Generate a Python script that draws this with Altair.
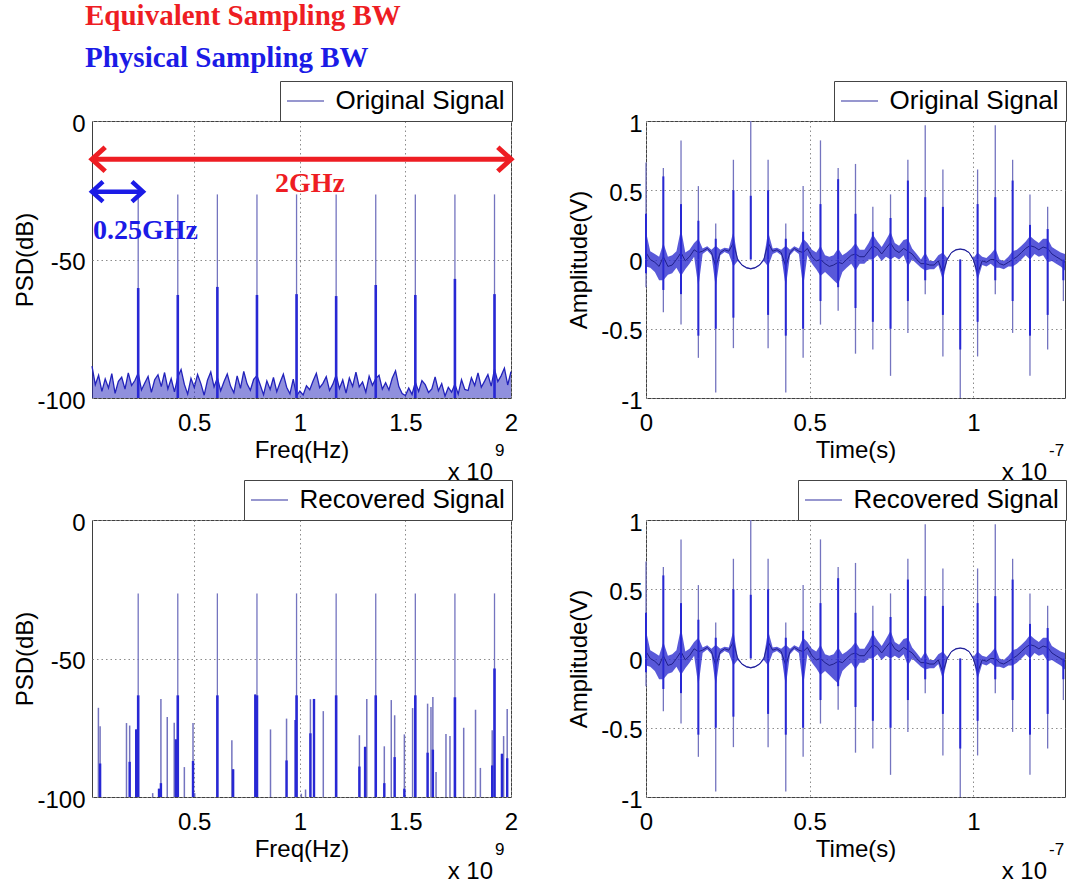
import altair as alt
import pandas as pd

# ---------------- values ----------------
# Frequency axis shown in units of 1e9 Hz, time axis in units of 1e-7 s
FREQ_DOMAIN = [0.015625, 2.0]
FREQ_STEP = 0.015625
DB_DOMAIN = [-100, 0]
TIME_DOMAIN = [0.0, 1.28]
AMP_DOMAIN = [-1, 1]

# comb lines (both spectra)
comb_f = [0.2344, 0.4219, 0.6094, 0.7969, 0.9844, 1.1719, 1.3594, 1.5469, 1.7344, 1.9219]
orig_comb_peak = [-26.5, -26.5, -26.5, -26.5, -26.5, -26.5, -26.5, -26.5, -26.5, -26.5]
orig_comb_core = [-60.3, -62.8, -59.9, -62.8, -62.5, -63.2, -59.2, -62.8, -57.0, -62.5]
rec_comb_peak = [-26.5, -26.5, -26.5, -26.5, -26.5, -26.5, -26.5, -26.5, -26.5, -26.5]
rec_comb_core = [-63.3, -63.3, -63.3, -63.3, -63.3, -63.3, -63.3, -63.3, -64.0, -53.6]

# noise floor of the original spectrum (one value per 15.625 MHz bin)
orig_floor = [
    -88.5, -95.2, -91.8, -97.6, -93.1, -96.4, -91.2, -98.3, -94.0, -92.5,
    -96.8, -90.9, -95.5, -93.7, -91.0, -97.1, -94.6, -92.2, -98.0, -93.4,
    -91.6, -95.9, -90.8, -96.7, -93.0, -97.8, -92.4, -89.7, -95.1, -98.6,
    -92.9, -96.2, -91.5, -94.8, -99.0, -93.6, -90.6, -96.0, -92.7, -97.4,
    -94.1, -91.3, -95.7, -98.1, -92.0, -96.5, -90.4, -94.9, -97.2, -93.3,
    -91.9, -95.3, -98.8, -93.8, -96.9, -92.6, -97.7, -94.4, -91.4, -96.1,
    -98.5, -93.2, -99.2, -97.5, -98.9, -95.6, -97.0, -93.9, -91.1, -96.3,
    -94.7, -92.3, -97.3, -95.0, -91.7, -96.6, -93.5, -98.2, -92.8, -95.8,
    -90.7, -96.0, -94.2, -97.9, -92.1, -95.4, -93.0, -91.8, -96.8, -94.5,
    -97.1, -92.9, -90.2, -95.9, -98.4, -99.1, -96.4, -98.7, -94.3, -97.6,
    -93.7, -95.2, -98.0, -96.7, -92.4, -97.4, -94.8, -99.3, -96.2, -97.9,
    -95.0, -98.6, -93.4, -96.9, -97.3, -92.7, -95.5, -90.9, -96.1, -93.9,
    -91.5, -95.7, -89.6, -94.1, -92.0, -89.2, -95.3, -90.5,
]

# spurious lines of the recovered spectrum
rec_extra_f = [0.046, 0.054, 0.179, 0.194, 0.225, 0.303, 0.333, 0.342, 0.372, 0.405,
               0.413, 0.453, 0.494, 0.502, 0.678, 0.684, 0.789, 0.861, 0.937, 0.980,
               1.007, 1.027, 1.050, 1.067, 1.111, 1.282, 1.309, 1.317, 1.400, 1.433,
               1.449, 1.495, 1.534, 1.605, 1.621, 1.630, 1.645, 1.692, 1.711, 1.776,
               1.832, 1.855, 1.911, 1.957, 1.965, 1.982]
rec_extra_top = [-67.8, -74.5, -73.3, -74.2, -75.6, -98.6, -97.0, -64.6, -71.1, -73.2,
                 -79.2, -89.2, -73.3, -98.6, -79.5, -90.0, -63.0, -75.6, -71.7, -72.2,
                 -98.8, -97.3, -64.7, -64.6, -69.0, -77.7, -81.9, -64.6, -81.7, -65.0,
                 -70.5, -77.4, -67.9, -66.3, -67.5, -63.9, -91.0, -77.3, -78.0, -75.0,
                 -68.5, -89.5, -75.9, -84.4, -78.0, -68.2]
rec_extra_core = [None, -87.9, None, -87.3, -75.6, None, -97.0, -95.0, None, None,
                  -79.2, None, -87.0, None, None, -90.0, -63.0, None, -86.8, -72.2,
                  None, None, -77.0, -64.6, None, -89.0, -81.9, None, -95.0, None,
                  -85.6, -97.0, None, -84.0, None, -82.9, None, None, None, None,
                  None, None, -88.6, -84.4, None, -86.0]

# time-domain pulses (same for original and recovered signal)
spike_t = [0.0, 0.053, 0.107, 0.16, 0.213, 0.267, 0.32, 0.373, 0.427, 0.48, 0.533, 0.587,
           0.64, 0.693, 0.747, 0.8, 0.853, 0.907, 0.96, 1.013, 1.067, 1.12, 1.173, 1.227, 1.275]
up_peak = [0.70, 0.66, 0.86, 0.53, 0.26, 0.72, 1.00, 0.72, 0.26, 0.53, 0.86, 0.66,
           0.69, 0.38, 0.47, 0.72, 0.97, 0.65, None, 0.65, 0.97, 0.72, 0.47, 0.38, None]
up_core = [0.33, 0.60, 0.40, 0.28, 0.15, 0.50, 0.46, 0.50, 0.15, 0.20, 0.40, 0.58,
           0.33, 0.20, 0.30, 0.57, 0.45, 0.38, None, 0.40, 0.45, 0.57, 0.25, 0.22, None]
down_peak = [-0.20, -0.38, -0.47, -0.71, -0.96, -0.64, None, -0.64, -0.96, -0.71, -0.47, -0.37,
             -0.68, -0.65, -0.84, -0.53, -0.25, -0.70, -1.00, -0.70, -0.25, -0.53, -0.84, -0.65, -0.30]
down_core = [-0.10, -0.22, -0.25, -0.55, -0.50, -0.42, None, -0.40, -0.55, -0.50, -0.30, -0.20,
             -0.35, -0.45, -0.50, -0.30, -0.15, -0.40, -0.65, -0.45, -0.15, -0.30, -0.55, -0.40, -0.15]

# slowly varying part of the waveform: centre line and the spread of the ripple
base_t = [0.000, 0.013, 0.027, 0.040, 0.053, 0.067, 0.080, 0.093, 0.107, 0.120, 0.133, 0.147,
          0.160, 0.173, 0.187, 0.200, 0.213, 0.227, 0.240, 0.253, 0.267, 0.280, 0.293, 0.307,
          0.320, 0.333, 0.347, 0.360, 0.373, 0.387, 0.400, 0.413, 0.427, 0.440, 0.453, 0.467,
          0.480, 0.493, 0.507, 0.520, 0.533, 0.547, 0.560, 0.573, 0.587, 0.600, 0.613, 0.627,
          0.640, 0.653, 0.667, 0.680, 0.693, 0.707, 0.720, 0.733, 0.747, 0.760, 0.773, 0.787,
          0.800, 0.813, 0.827, 0.840, 0.853, 0.867, 0.880, 0.893, 0.907, 0.920, 0.933, 0.947,
          0.960, 0.973, 0.987, 1.000, 1.013, 1.027, 1.040, 1.053, 1.067, 1.080, 1.093, 1.107,
          1.120, 1.133, 1.147, 1.160, 1.173, 1.187, 1.200, 1.213, 1.227, 1.240, 1.253, 1.267,
          1.280]
base_mid = [0.05, 0.00, -0.02, -0.05, 0.02, -0.05, -0.04, 0.00, 0.05, -0.01, 0.02, 0.07,
            0.05, 0.06, 0.08, 0.05, -0.05, 0.05, 0.07, 0.06, 0.12, 0.00, -0.04, -0.06,
            -0.067, -0.06, -0.04, 0.00, 0.12, 0.06, 0.07, 0.05, -0.05, 0.05, 0.08, 0.06,
            0.05, 0.08, 0.02, -0.01, 0.00, -0.03, -0.05, -0.04, -0.02, -0.03, 0.00, 0.03,
            0.04, 0.02, 0.02, 0.06, 0.10, 0.08, 0.04, 0.08, 0.12, 0.07, 0.05, 0.08,
            0.06, 0.04, 0.00, -0.03, -0.03, -0.04, -0.04, -0.01, -0.10, 0.00, 0.05, 0.07,
            0.075, 0.07, 0.05, 0.00, -0.10, -0.01, -0.02, 0.00, 0.00, -0.03, -0.04, -0.02,
            0.00, 0.02, 0.05, 0.08, 0.10, 0.09, 0.07, 0.09, 0.08, 0.04, 0.02, 0.00,
            -0.02]
base_lo = [-0.05, -0.06, -0.09, -0.15, -0.15, -0.11, -0.10, -0.06, -0.12, -0.07, -0.03, 0.02,
           -0.20, 0.04, 0.065, 0.03, -0.20, 0.03, 0.055, 0.04, -0.05, -0.01, -0.045, -0.065,
           -0.072, -0.065, -0.045, -0.01, -0.05, 0.04, 0.055, 0.03, -0.20, 0.03, 0.065, 0.04,
           -0.20, 0.03, -0.03, -0.07, -0.12, -0.09, -0.12, -0.15, -0.18, -0.09, -0.06, -0.03,
           -0.08, -0.03, -0.03, 0.00, 0.00, 0.03, -0.01, 0.02, 0.00, 0.02, 0.00, 0.03,
           -0.05, 0.00, -0.03, -0.06, -0.08, -0.07, -0.07, -0.04, -0.15, -0.01, 0.045, 0.065,
           0.07, 0.065, 0.045, -0.01, -0.15, -0.04, -0.05, -0.03, -0.06, -0.06, -0.07, -0.05,
           -0.05, -0.03, 0.00, 0.03, 0.00, 0.04, 0.02, 0.03, -0.02, -0.01, -0.03, -0.05,
           -0.08]
base_hi = [0.20, 0.06, 0.04, 0.02, 0.12, 0.02, 0.03, 0.06, 0.22, 0.05, 0.07, 0.12,
           0.15, 0.08, 0.095, 0.07, 0.10, 0.07, 0.085, 0.08, 0.20, 0.01, -0.035, -0.055,
           -0.062, -0.055, -0.035, 0.01, 0.20, 0.08, 0.085, 0.07, 0.10, 0.07, 0.095, 0.08,
           0.15, 0.12, 0.07, 0.05, 0.10, 0.03, 0.02, 0.03, 0.08, 0.03, 0.05, 0.08,
           0.12, 0.07, 0.07, 0.12, 0.18, 0.13, 0.09, 0.14, 0.20, 0.12, 0.10, 0.14,
           0.15, 0.08, 0.04, 0.00, 0.05, -0.01, -0.01, 0.03, 0.05, 0.01, 0.055, 0.075,
           0.08, 0.075, 0.055, 0.01, 0.05, 0.02, 0.01, 0.04, 0.08, 0.00, -0.01, 0.02,
           0.06, 0.07, 0.10, 0.13, 0.17, 0.14, 0.12, 0.15, 0.15, 0.09, 0.07, 0.05,
           0.04]

# annotation values (data units)
eq_bw_level = -13.8      # red 2 GHz arrow
phys_bw_level = -25.5    # blue 0.25 GHz arrow
phys_bw_end = 0.257

# ---------------- styling ----------------
W, H = 419, 277
SANS = "Liberation Sans"
SERIF = "Liberation Serif"
THIN = "#7474bf"
CORE = "#2828d4"
LINE = "#2222bb"
BAND = "#3030d0"
MID = "#1f1f8a"
RED = "#ee1d23"
BLUE = "#1b1be6"
LABEL_EXPR = "replace(format(datum.value, '~g'), '\u2212', '-')"


def make_axis(**kw):
    base = dict(grid=True, ticks=False, domain=False, labelFlush=False, labelOverlap=False,
                labelExpr=LABEL_EXPR, labelFont=SANS, labelFontSize=24, labelColor="black",
                titleFont=SANS, titleFontSize=24, titleColor="black", titleFontWeight="normal",
                gridColor="#8c8c8c", gridDash=[1.5, 3], gridWidth=1)
    base.update(kw)
    return alt.Axis(**base)


def x_axis(values, title):
    return make_axis(values=values, title=title, titleX=W / 2, titleY=59,
                     titleBaseline="alphabetic", titleAlign="center",
                     labelPadding=13, labelBaseline="top")


def y_axis(values, title, pad):
    return make_axis(values=values, title=title, titleX=-60, titleY=H / 2, titleAngle=270,
                     titleBaseline="alphabetic", titleAlign="center",
                     labelPadding=pad, labelBaseline="middle", labelAlign="right", labelOffset=3)


AX_F = x_axis([0.5, 1, 1.5, 2], "Freq(Hz)")
AX_DB = y_axis([-100, -50, 0], "PSD(dB)", 7)
AX_T = x_axis([0, 0.5, 1], "Time(s)")
AX_V = y_axis([-1, -0.5, 0, 0.5, 1], "Amplitude(V)", 4)


def XF(field="f"):
    return alt.X(f"{field}:Q", scale=alt.Scale(domain=FREQ_DOMAIN, nice=False, zero=False), axis=AX_F)


def YDB(field="v"):
    return alt.Y(f"{field}:Q", scale=alt.Scale(domain=DB_DOMAIN, nice=False, zero=False), axis=AX_DB)


def XT(field="t"):
    return alt.X(f"{field}:Q", scale=alt.Scale(domain=TIME_DOMAIN, nice=False, zero=False), axis=AX_T)


def YV(field="v"):
    return alt.Y(f"{field}:Q", scale=alt.Scale(domain=AMP_DOMAIN, nice=False, zero=False), axis=AX_V)


def legend(lx):
    return alt.Legend(title=None, orient="none", legendX=lx, legendY=-40,
                      symbolType="M -2 0 L 2 0", symbolSize=342, symbolStrokeWidth=1.3,
                      symbolOffset=5.5, labelOffset=17, labelFont=SANS, labelFontSize=26,
                      labelColor="black", labelLimit=400, padding=7,
                      strokeColor="#444444", fillColor="white", cornerRadius=0)


def color_enc(name, lx):
    return alt.Color("series:N", scale=alt.Scale(domain=[name], range=[THIN]), legend=legend(lx))


def pixel_text(s, x, y, size, color="black", font=SANS, weight="normal", align="left"):
    return alt.Chart(pd.DataFrame({"s": [s]})).mark_text(
        font=font, fontSize=size, fontWeight=weight, color=color, align=align,
        baseline="alphabetic").encode(x=alt.value(x), y=alt.value(y), text="s:N")


def pairs(xs, ys):
    return [(a, b) for a, b in zip(xs, ys) if b is not None]


def exponent(expo):
    return [pixel_text("x 10", 401, H + 82, 24, align="right"),
            pixel_text(expo, 403, H + 58, 17)]


def psd_panel(name, lx, peak, core, floor=None, extra=None, notes=False):
    layers = []
    if floor is not None:
        fdf = pd.DataFrame({"f": [FREQ_STEP * (i + 1) for i in range(len(floor))], "v": floor,
                            "v2": [-100] * len(floor)})
        layers.append(alt.Chart(fdf).mark_area(color=LINE, opacity=0.5)
                      .encode(x=XF(), y=YDB(), y2=alt.Y2("v2")))
        layers.append(alt.Chart(fdf).mark_line(color=LINE, strokeWidth=1.3).encode(x=XF(), y=YDB()))
    if extra is not None:
        ef, etop, ecore = extra
        edf = pd.DataFrame({"f": ef, "v": etop, "v2": [-100] * len(ef)})
        layers.append(alt.Chart(edf).mark_rule(color=THIN, strokeWidth=1.5)
                      .encode(x=XF(), y=YDB(), y2=alt.Y2("v2")))
        cp = pairs(ef, ecore)
        cdf = pd.DataFrame({"f": [p[0] for p in cp], "v": [p[1] for p in cp], "v2": [-100] * len(cp)})
        layers.append(alt.Chart(cdf).mark_rule(color=CORE, strokeWidth=2.4)
                      .encode(x=XF(), y=YDB(), y2=alt.Y2("v2")))
    sdf = pd.DataFrame({"f": comb_f, "v": peak, "v2": [-100] * len(comb_f), "series": [name] * len(comb_f)})
    layers.append(alt.Chart(sdf).mark_rule(strokeWidth=1.3)
                  .encode(x=XF(), y=YDB(), y2=alt.Y2("v2"), color=color_enc(name, lx)))
    kdf = pd.DataFrame({"f": comb_f, "v": core, "v2": [-100] * len(comb_f)})
    layers.append(alt.Chart(kdf).mark_rule(color=CORE, strokeWidth=2.6)
                  .encode(x=XF(), y=YDB(), y2=alt.Y2("v2")))
    if notes:
        # invisible layout anchor fixing the figure's top-left corner
        layers.append(alt.Chart(pd.DataFrame({"a": [0]})).mark_rule(opacity=0, strokeWidth=1)
                      .encode(x=alt.value(-91.5), x2=alt.value(-90.0), y=alt.value(-120.5), y2=alt.value(-120.5)))
        layers.append(pixel_text("Equivalent Sampling BW", -7, -96, 29, RED, SERIF, "bold"))
        layers.append(pixel_text("Physical Sampling BW", -7, -54, 29, BLUE, SERIF, "bold"))
        for lvl, end, col, sw, sz in [(eq_bw_level, FREQ_DOMAIN[1], RED, 5, 576),
                                      (phys_bw_level, phys_bw_end, BLUE, 4.5, 400)]:
            adf = pd.DataFrame({"f": [FREQ_DOMAIN[0]], "f2": [end], "v": [lvl]})
            layers.append(alt.Chart(adf).mark_rule(color=col, strokeWidth=sw, strokeCap="butt")
                          .encode(x=XF(), x2=alt.X2("f2"), y=YDB()))
            ldf = pd.DataFrame({"f": [FREQ_DOMAIN[0]], "v": [lvl]})
            rdf = pd.DataFrame({"f": [end], "v": [lvl]})
            layers.append(alt.Chart(ldf).mark_point(shape="M 1.1 -1 L 0 0 L 1.1 1", filled=False,
                                                    strokeWidth=sw, size=sz, color=col, opacity=1,
                                                    strokeJoin="miter")
                          .encode(x=XF(), y=YDB()))
            layers.append(alt.Chart(rdf).mark_point(shape="M -1.1 -1 L 0 0 L -1.1 1", filled=False,
                                                    strokeWidth=sw, size=sz, color=col, opacity=1,
                                                    strokeJoin="miter")
                          .encode(x=XF(), y=YDB()))
        layers.append(alt.Chart(pd.DataFrame({"f": [1.048], "v": [-25.7], "s": ["2GHz"]}))
                      .mark_text(font=SERIF, fontSize=28, fontWeight="bold", color=RED,
                                 align="center", baseline="alphabetic")
                      .encode(x=XF(), y=YDB(), text="s:N"))
        layers.append(alt.Chart(pd.DataFrame({"f": [0.02], "v": [-42.6], "s": ["0.25GHz"]}))
                      .mark_text(font=SERIF, fontSize=28, fontWeight="bold", color=BLUE,
                                 align="left", baseline="alphabetic")
                      .encode(x=XF(), y=YDB(), text="s:N"))
    layers += exponent("9")
    return alt.layer(*layers).properties(width=W, height=H)


def time_panel(name, lx):
    bdf = pd.DataFrame({"t": base_t, "lo": base_lo, "hi": base_hi, "v": base_mid})
    band = alt.Chart(bdf).mark_area(color=BAND, opacity=0.8).encode(
        x=XT(), y=YV("lo"), y2=alt.Y2("hi"))
    mid = alt.Chart(bdf).mark_line(color=MID, strokeWidth=1).encode(x=XT(), y=YV())
    layers = [band, mid]
    up = pairs(spike_t, up_peak)
    udf = pd.DataFrame({"t": [p[0] for p in up], "v": [p[1] for p in up],
                        "v2": [0.0] * len(up), "series": [name] * len(up)})
    layers.append(alt.Chart(udf).mark_rule(strokeWidth=1.3)
                  .encode(x=XT(), y=YV(), y2=alt.Y2("v2"), color=color_enc(name, lx)))
    pp = pairs(spike_t, down_peak)
    ddf = pd.DataFrame({"t": [p[0] for p in pp], "v": [p[1] for p in pp], "v2": [0.0] * len(pp)})
    layers.append(alt.Chart(ddf).mark_rule(color=THIN, strokeWidth=1.3)
                  .encode(x=XT(), y=YV(), y2=alt.Y2("v2")))
    for xs in (up_core, down_core):
        pp = pairs(spike_t, xs)
        cdf = pd.DataFrame({"t": [p[0] for p in pp], "v": [p[1] for p in pp], "v2": [0.0] * len(pp)})
        layers.append(alt.Chart(cdf).mark_rule(color=CORE, strokeWidth=2.0)
                      .encode(x=XT(), y=YV(), y2=alt.Y2("v2")))
    layers += exponent("-7")
    return alt.layer(*layers).properties(width=W, height=H)


TL = psd_panel("Original Signal", 188, orig_comb_peak, orig_comb_core, floor=orig_floor, notes=True)
TR = time_panel("Original Signal", 188)
BL = psd_panel("Recovered Signal", 152, rec_comb_peak, rec_comb_core,
               extra=(rec_extra_f, rec_extra_top, rec_extra_core))
BR = time_panel("Recovered Signal", 152)

chart = (alt.concat(TL, TR, BL, BR, columns=2,
                    spacing=alt.RowColnumber(row=122, column=135), bounds="flush")
         .resolve_scale(x="independent", y="independent", color="independent")
         .properties(padding={"left": 0, "top": 0, "right": 0, "bottom": 0}, background="white")
         .configure_view(stroke="#3f3f3f", strokeWidth=1))

chart.save("out.html", embed_options={"renderer": "svg", "actions": False})
